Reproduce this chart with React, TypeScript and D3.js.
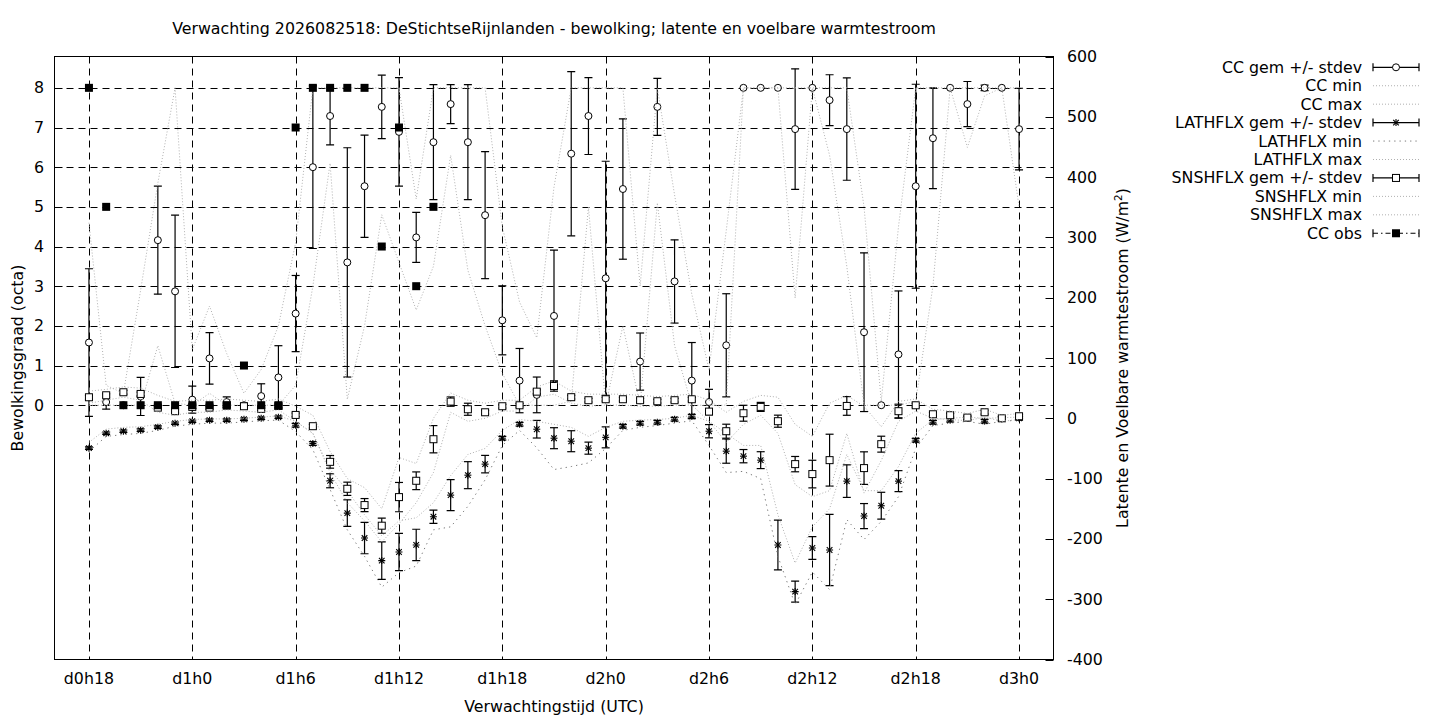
import React from 'react'
import * as d3 from 'd3'

// forecast hours (d0h18 .. d3h0)
const hours = [
  18, 19, 20, 21, 22, 23, 24, 25, 26, 27,
  28, 29, 30, 31, 32, 33, 34, 35, 36, 37,
  38, 39, 40, 41, 42, 43, 44, 45, 46, 47,
  48, 49, 50, 51, 52, 53, 54, 55, 56, 57,
  58, 59, 60, 61, 62, 63, 64, 65, 66, 67,
  68, 69, 70, 71, 72,
]
const tickHours = [18, 24, 30, 36, 42, 48, 54, 60, 66, 72]
const tickLabels = ['d0h18', 'd1h0', 'd1h6', 'd1h12', 'd1h18', 'd2h0', 'd2h6', 'd2h12', 'd2h18', 'd3h0']
const ccTicks = [0, 1, 2, 3, 4, 5, 6, 7, 8]
const fluxTicks = [600, 500, 400, 300, 200, 100, 0, -100, -200, -300, -400]

// bewolking (octa)
const ccMean = [
  1.58, 0.08, 0.0, 0.22, 4.16, 2.87, 0.14, 1.18, 0.08, 0.0,
  0.23, 0.7, 2.31, 6.0, 7.29, 3.6, 5.52, 7.52, 6.89, 4.23,
  6.63, 7.59, 6.63, 4.79, 2.14, 0.62, 0.26, 2.25, 6.34, 7.29,
  3.2, 5.45, 1.1, 7.52, 3.12, 0.62, 0.08, 1.51, 8, 8,
  8, 6.96, 8, 7.69, 6.96, 1.84, 0.0, 1.28, 5.52, 6.73,
  8, 7.59, 8, 8, 6.96,
]
const ccStd = [
  1.86, 0.18, 0, 0.48, 1.36, 1.92, 0.34, 0.65, 0.13, 0.05,
  0.31, 0.8, 0.96, 2.05, 0.73, 2.89, 1.29, 0.8, 1.37, 0.63,
  1.45, 0.49, 1.45, 1.6, 0.87, 0.81, 0.45, 1.66, 2.07, 0.97,
  2.95, 1.77, 0.72, 0.72, 1.05, 0.96, 0.32, 1.3, 0, 0,
  0, 1.52, 0, 0.64, 1.29, 2.0, 0, 1.6, 2.57, 1.27,
  0, 0.57, 0.07, 0, 1.03,
]
const ccMin = [
  0, 0, 0, 0, 1.5, 0.05, 0, 0.3, 0, 0,
  0, 0, 0.5, 3.0, 6.1, 0.15, 2.0, 4.8, 3.6, 2.4,
  3.5, 6.3, 3.4, 2.0, 0.8, 0, 0, 0, 0.1, 5.0,
  0, 2.0, 0, 5.1, 1.5, 0, 0, 0, 8, 8,
  8, 2.7, 8, 6.3, 3.5, 0, 0, 0, 0.1, 3.0,
  8, 6.5, 7.8, 8, 5.0,
]
const ccMax = [
  4.6, 0.5, 0.3, 2.9, 5.6, 8, 1.4, 2.5, 1.3, 0.3,
  0.9, 2.0, 4.1, 8, 8, 8, 8, 8, 8, 5.2,
  8, 8, 8, 8, 4.5, 2.6, 1.7, 5.5, 8, 8,
  8, 8, 3.0, 8, 5.3, 2.8, 0.9, 4.4, 8, 8,
  8, 8, 8, 8, 8, 5.0, 0.1, 4.5, 8, 8,
  8, 8, 8, 8, 8,
]
const ccObs = [8, 5, 0, 0, 0, 0, 0, 0, 0, 1, 0, 0, 7, 8, 8, 8, 8, 4, 7, 3, 5]

// latente warmtestroom (W/m2)
const lathMean = [
  -49.5, -24.7, -21.4, -19.7, -14.7, -8.1, -4.8, -3.1, -3.1, -1.5,
  0, 1.8, -11.5, -41.8, -103.6, -157.2, -198.6, -236, -221.7, -210,
  -163.2, -127.4, -94.3, -76, -33, -9.8, -18.1, -33, -38, -49.5,
  -31.6, -13.1, -8.1, -6.5, -1.5, 3.5, -21.4, -54.5, -62.8, -69.4,
  -210.1, -287.4, -215.1, -218.4, -104.2, -162.1, -145, -104.2, -36.3, -6.5,
  -3.1, 0, -4.8, -1, 0,
]
const lathStd = [
  2, 2, 2, 2, 2, 2, 2, 2, 2, 2,
  2, 2, 3, 3, 11.6, 22, 26, 31, 31, 26,
  11, 25.7, 22.4, 14.5, 3, 3, 14.6, 17.4, 17.4, 10,
  17.4, 3, 3, 3, 3, 3, 11, 20, 11, 14,
  41.4, 17.4, 19, 59, 27, 20.7, 22.3, 17.4, 3, 3,
  3, 3, 3, 3, 3,
]
const lathMin = [
  -55, -30, -27, -25, -20, -13, -10, -8, -8, -6,
  -4, -3, -22, -52, -118, -185, -229, -280, -256, -245,
  -185, -180, -146, -102, -45, -20, -49, -85, -80, -74,
  -50, -20, -15, -12, -8, -4, -45, -90, -88, -100,
  -229, -309, -255, -284, -168, -201, -171, -130, -50, -12,
  -8, -5, -10, -5, -3,
]
const lathMax = [
  -40, -18, -15, -14, -10, -5, -2, -1, -1, 0,
  2, 4, -5, -25, -85, -120, -160, -195, -170, -165,
  -140, -95, -60, -50, -20, -2, -5, -10, -15, -30,
  -15, -5, -3, -2, 0, 5, -5, -25, -45, -45,
  -160, -240, -180, -150, -60, -120, -120, -80, -25, -2,
  0, 2, 0, 1, 2,
]

// voelbare warmtestroom (W/m2)
const snshMean = [
  34.9, 38.2, 43.2, 40.4, 17.7, 11.8, 18.9, 17.7, 21, 20,
  15.6, 20.5, 5.6, -13.1, -72.2, -116.9, -143.9, -178.1, -130.7, -103.6,
  -34.7, 27.7, 15, 10, 20, 21.6, 44.2, 53.6, 35, 30,
  31.6, 31.6, 30, 28.3, 30, 31.6, 11.1, -21.4, 8.4, 18.9,
  -4.8, -76, -92.5, -69.4, 20.5, -82.6, -42.9, 11.8, 21.6, 6.7,
  5.1, 1.2, 10, 0, 3.4,
]
const snshStd = [
  3, 3, 3, 3, 3, 3, 3, 3, 3, 3,
  3, 3, 3, 3, 10.5, 11, 10.8, 12.5, 24.3, 14.7,
  22.6, 7.7, 10, 3, 3, 3, 3, 8.6, 3, 3,
  3, 3, 3, 3, 3, 3, 3, 11.6, 13.2, 7.5,
  10, 12.7, 22.9, 43, 15.5, 27, 13.2, 11.6, 3, 3,
  3, 3, 3, 3, 3,
]
const snshMin = [
  25, 30, 35, 30, 10, 5, 10, 10, 14, 12,
  10, 14, -5, -25, -90, -140, -170, -205, -175, -140,
  -90, 10, -5, 0, 12, 12, 35, 40, 25, 20,
  22, 22, 20, 20, 22, 22, -5, -40, -10, 5,
  -25, -110, -130, -120, -25, -124, -70, -5, 12, 0,
  -2, -4, 2, -5, -2,
]
const snshMax = [
  45, 48, 52, 50, 38, 28, 30, 30, 32, 30,
  28, 32, 20, 5, -55, -100, -115, -150, -65, -75,
  0, 42, 30, 25, 30, 30, 52, 62, 45, 40,
  40, 40, 38, 36, 38, 40, 30, 10, 28, 38,
  35, -10, -30, 25, 38, 20, -14, 28, 32, 15,
  12, 8, 15, 5, 8,
]

const FONT = 'DejaVu Sans, sans-serif'
const FS = 15.8
const GRAY = '#b0b0b0'
const DARKGRAY = '#7a7a7a'

const plot = { left: 54.5, right: 1053.5, top: 56.5, bottom: 659.5 }

const x = d3.scaleLinear().domain([16, 74]).range([plot.left, plot.right])
const yL = d3.scaleLinear().domain([-6.41, 8.79]).range([plot.bottom, plot.top])
const yR = d3.scaleLinear().domain([-400, 600]).range([plot.bottom, plot.top])

type Sym = 'circle' | 'square' | 'star' | 'filled'

function Marker({ cx, cy, sym }: { cx: number; cy: number; sym: Sym }) {
  const s = 3.5
  if (sym === 'circle')
    return <circle cx={cx} cy={cy} r={3.5} fill="white" stroke="black" strokeWidth={1} />
  if (sym === 'square')
    return <rect x={cx - s} y={cy - s} width={2 * s} height={2 * s} fill="white" stroke="black" strokeWidth={1} />
  if (sym === 'filled')
    return <rect x={cx - s - 0.5} y={cy - s - 0.5} width={2 * s + 1} height={2 * s + 1} fill="black" />
  return (
    <g stroke="black" strokeWidth={1.1}>
      <line x1={cx - s} x2={cx + s} y1={cy} y2={cy} />
      <line x1={cx} x2={cx} y1={cy - s} y2={cy + s} />
      <line x1={cx - s * 0.8} x2={cx + s * 0.8} y1={cy - s * 0.8} y2={cy + s * 0.8} />
      <line x1={cx - s * 0.8} x2={cx + s * 0.8} y1={cy + s * 0.8} y2={cy - s * 0.8} />
    </g>
  )
}

function ErrorSeries({ mean, std, scale, sym }: {
  mean: number[]; std: number[]; scale: d3.ScaleLinear<number, number>; sym: Sym
}) {
  return (
    <g>
      {mean.map((m, i) => {
        const cx = x(hours[i])
        const y0 = scale(m - std[i])
        const y1 = scale(m + std[i])
        return (
          <g key={i}>
            {std[i] > 0 && (
              <g stroke="black" strokeWidth={1.2}>
                <line x1={cx} x2={cx} y1={y0} y2={y1} />
                <line x1={cx - 4} x2={cx + 4} y1={y0} y2={y0} />
                <line x1={cx - 4} x2={cx + 4} y1={y1} y2={y1} />
              </g>
            )}
            <Marker cx={cx} cy={scale(m)} sym={sym} />
          </g>
        )
      })}
    </g>
  )
}

function GrayLine({ values, scale, dash, color }: {
  values: number[]; scale: d3.ScaleLinear<number, number>; dash: string; color: string
}) {
  const line = d3.line<number>().x((_, i) => x(hours[i])).y(v => scale(v))
  return <path d={line(values) || ''} fill="none" stroke={color} strokeWidth={1} strokeDasharray={dash} />
}

const legendRows: { label: string; kind: 'err' | 'dot' | 'dotwide' | 'obs'; sym?: Sym }[] = [
  { label: 'CC gem +/- stdev', kind: 'err', sym: 'circle' },
  { label: 'CC min', kind: 'dot' },
  { label: 'CC max', kind: 'dot' },
  { label: 'LATHFLX gem +/- stdev', kind: 'err', sym: 'star' },
  { label: 'LATHFLX min', kind: 'dotwide' },
  { label: 'LATHFLX max', kind: 'dot' },
  { label: 'SNSHFLX gem +/- stdev', kind: 'err', sym: 'square' },
  { label: 'SNSHFLX min', kind: 'dot' },
  { label: 'SNSHFLX max', kind: 'dot' },
  { label: 'CC obs', kind: 'obs', sym: 'filled' },
]

export default function App() {
  const obsHours = hours.slice(0, ccObs.length)
  return (
    <svg width={1440} height={720} style={{ position: 'absolute', left: 0, top: 0, background: 'white', fontFamily: FONT }}>
      <defs>
        <clipPath id="plotclip">
          <rect x={plot.left} y={plot.top} width={plot.right - plot.left} height={plot.bottom - plot.top} />
        </clipPath>
      </defs>

      {/* title */}
      <text x={554} y={34} textAnchor="middle" fontSize={FS}>
        Verwachting 2026082518: DeStichtseRijnlanden - bewolking; latente en voelbare warmtestroom
      </text>

      {/* grid */}
      <g stroke="black" strokeWidth={1} strokeDasharray="7,5">
        {tickHours.map(h => (
          <line key={h} x1={Math.round(x(h)) + 0.5} x2={Math.round(x(h)) + 0.5} y1={plot.top} y2={plot.bottom} />
        ))}
        {ccTicks.map(t => (
          <line key={t} x1={plot.left} x2={plot.right} y1={Math.round(yL(t)) + 0.5} y2={Math.round(yL(t)) + 0.5} />
        ))}
      </g>

      {/* ticks and labels */}
      <g stroke="black" strokeWidth={1}>
        {ccTicks.map(t => (
          <line key={t} x1={plot.left} x2={plot.left + 8} y1={Math.round(yL(t)) + 0.5} y2={Math.round(yL(t)) + 0.5} />
        ))}
        {fluxTicks.map(t => (
          <line key={t} x1={plot.right - 8} x2={plot.right} y1={Math.round(yR(t)) + 0.5} y2={Math.round(yR(t)) + 0.5} />
        ))}
      </g>
      <g fontSize={FS}>
        {ccTicks.map(t => (
          <text key={t} x={44} y={yL(t) + 5.5} textAnchor="end">{t}</text>
        ))}
        {fluxTicks.map(t => (
          <text key={t} x={1067} y={yR(t) + 5.5} textAnchor="start">{t}</text>
        ))}
        {tickHours.map((h, i) => (
          <text key={h} x={x(h)} y={684} textAnchor="middle">{tickLabels[i]}</text>
        ))}
      </g>

      {/* axis titles */}
      <text x={554} y={712} textAnchor="middle" fontSize={FS}>Verwachtingstijd (UTC)</text>
      <text transform="translate(23,358) rotate(-90)" textAnchor="middle" fontSize={FS}>Bewolkingsgraad (octa)</text>
      <text transform="translate(1128,358) rotate(-90)" textAnchor="middle" fontSize={FS}>
        Latente en Voelbare warmtestroom (W/m<tspan dy={-6} fontSize={10.5}>2</tspan><tspan dy={6}>)</tspan>
      </text>

      {/* data */}
      <g clipPath="url(#plotclip)">
        <ErrorSeries mean={ccMean} std={ccStd} scale={yL} sym="circle" />
        <GrayLine values={ccMin} scale={yL} dash="1,2" color={GRAY} />
        <GrayLine values={ccMax} scale={yL} dash="1,2" color={GRAY} />
        <ErrorSeries mean={lathMean} std={lathStd} scale={yR} sym="star" />
        <GrayLine values={lathMin} scale={yR} dash="1.3,4" color={DARKGRAY} />
        <GrayLine values={lathMax} scale={yR} dash="1,2" color={GRAY} />
        <ErrorSeries mean={snshMean} std={snshStd} scale={yR} sym="square" />
        <GrayLine values={snshMin} scale={yR} dash="1,2" color={GRAY} />
        <GrayLine values={snshMax} scale={yR} dash="1,2" color={GRAY} />
        {ccObs.map((v, i) => (
          <Marker key={i} cx={x(obsHours[i])} cy={yL(v)} sym="filled" />
        ))}
      </g>

      {/* frame */}
      <rect x={plot.left} y={plot.top} width={plot.right - plot.left} height={plot.bottom - plot.top} fill="none" stroke="black" strokeWidth={1} />

      {/* legend */}
      <g fontSize={FS}>
        {legendRows.map((r, i) => {
          const ly = 67.3 + i * 18.44
          const x0 = 1373
          const x1 = 1419
          const xm = (x0 + x1) / 2
          return (
            <g key={r.label}>
              <text x={1362} y={ly + 5.5} textAnchor="end">{r.label}</text>
              {(r.kind === 'err' || r.kind === 'obs') && (
                <g stroke="black" strokeWidth={1.2}>
                  <line x1={x0} x2={x1} y1={ly} y2={ly} strokeDasharray={r.kind === 'obs' ? '5,3,1.5,3' : undefined} />
                  <line x1={x0} x2={x0} y1={ly - 4} y2={ly + 4} />
                  <line x1={x1} x2={x1} y1={ly - 4} y2={ly + 4} />
                </g>
              )}
              {r.sym && <Marker cx={xm} cy={ly} sym={r.sym} />}
              {r.kind === 'dot' && (
                <line x1={x0} x2={x1} y1={ly} y2={ly} stroke={GRAY} strokeWidth={1} strokeDasharray="1,2" />
              )}
              {r.kind === 'dotwide' && (
                <line x1={x0} x2={x1} y1={ly} y2={ly} stroke={DARKGRAY} strokeWidth={1} strokeDasharray="1.3,4" />
              )}
            </g>
          )
        })}
      </g>
    </svg>
  )
}
